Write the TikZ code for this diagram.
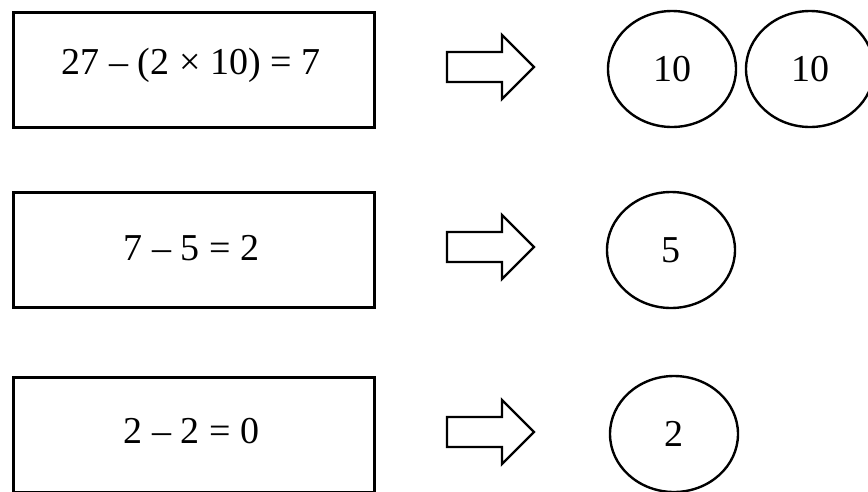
\documentclass[tikz,border=0pt]{standalone}
\usepackage{fontspec}
\setmainfont{Liberation Serif}
\usetikzlibrary{shapes.geometric}
\tikzset{
  eqbox/.style={draw=black, line width=3pt, rectangle, minimum width=361pt, minimum height=115pt, inner sep=0pt},
  eqtext/.style={inner sep=0pt, font=\fontsize{38}{45}\selectfont},
  coin/.style={draw=black, line width=2.4pt, ellipse, minimum width=128pt, minimum height=116pt, inner sep=0pt, font=\fontsize{38}{45}\selectfont},
  blockarrow/.style={draw=black, line width=2.4pt, fill=white, line join=miter}
}
\begin{document}
\begin{tikzpicture}[x=1pt,y=-1pt]
\useasboundingbox (0,0) rectangle (868,491);
\clip (0,0) rectangle (868,491);
% boxes
\node[eqbox] (b1) at (193.5,69.5) {};
\node[eqbox] (b2) at (193.5,250) {};
\node[eqbox] (b3) at (193.5,435) {};
\node[eqtext] (t1) at (191,65) {27 – (2 × 10) = 7};
\node[eqtext] (t2) at (191.5,248) {7 – 5 = 2};
\node[eqtext] (t3) at (191.5,431) {2 – 2 = 0};
% arrows
\foreach \name/\y in {a1/67, a2/247, a3/432}{
  \coordinate (\name) at (534,\y);
  \draw[blockarrow] (\name) -- ++(-32,-32) -- ++(0,17) -- ++(-55,0) -- ++(0,30) -- ++(55,0) -- ++(0,17) -- cycle;
}
% coins
\node[coin] (c1) at (672,69) {10};
\node[coin] (c2) at (810,69) {10};
\node[coin] (c3) at (671,250) {5};
\node[coin] (c4) at (674,434) {2};
\end{tikzpicture}
\end{document}
